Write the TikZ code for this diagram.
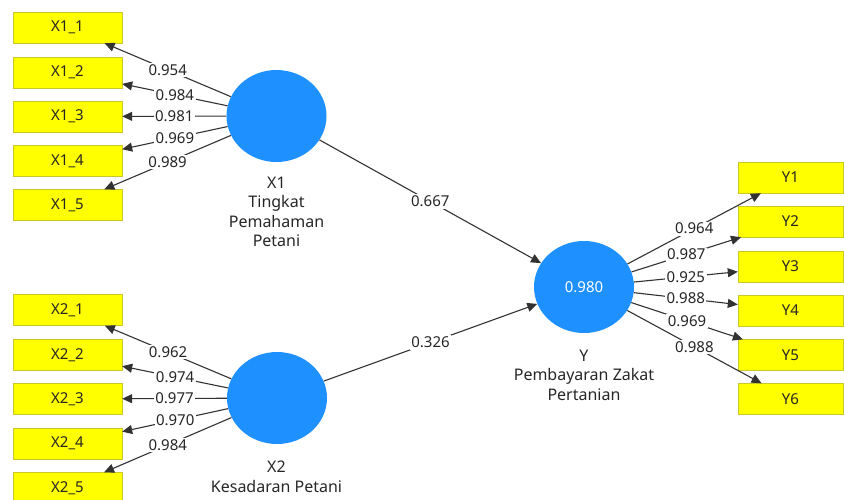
\documentclass[tikz,border=0pt]{standalone}
\usepackage{fontspec}
\setmainfont{Noto Sans}
\usepackage{tikz}
\usetikzlibrary{shapes.geometric}
\usetikzlibrary{arrows.meta}
\definecolor{plsblue}{RGB}{30,144,255}
\definecolor{plsyellow}{RGB}{255,255,0}
\definecolor{plsborder}{RGB}{200,200,40}
\definecolor{plsline}{RGB}{50,50,50}
\tikzstyle{latent}=[ellipse,fill=plsblue,draw=none,inner sep=0mm,minimum width=100pt,minimum height=92pt,text=white,font=\fontsize{15}{19}\selectfont]
\tikzstyle{indicator}=[rectangle,draw=plsborder,fill=plsyellow,inner sep=0mm,minimum width=109pt,minimum height=31pt,text=black!85,font=\fontsize{15}{19}\selectfont]
\tikzstyle{yindicator}=[indicator,minimum width=105pt]
\tikzstyle{loading}=[fill=white,inner sep=1.5pt,text=black!85,font=\fontsize{15}{19}\selectfont]
\tikzstyle{caption}=[align=center,inner sep=0mm,text=black!85,font=\fontsize{16}{19.5}\selectfont]
\tikzstyle{path}=[draw=plsline,line width=1.1pt]

\begin{document}
\begin{tikzpicture}[x=1pt,y=-1pt,>={Triangle[length=10pt,width=9pt]}]
    \useasboundingbox (0,0) rectangle (844,499);
    \node[latent] at (276.5,116) (lx1) {};
    \node[latent] at (277,398) (lx2) {};
    \node[latent] at (584,287) (ly) {0.980};
    \node[caption] at (276.5,212) (tx1) {X1\\Tingkat\\Pemahaman\\Petani};
    \node[caption] at (276.5,477) (tx2) {X2\\Kesadaran Petani};
    \node[caption] at (584,375) (ty) {Y\\Pembayaran Zakat\\Pertanian};
    \node[indicator] at (67.5,27.5) (x11) {X1\_1};
    \node[indicator] at (67.5,72.5) (x12) {X1\_2};
    \node[indicator] at (67.5,116.5) (x13) {X1\_3};
    \node[indicator] at (67.5,161) (x14) {X1\_4};
    \node[indicator] at (67.5,205) (x15) {X1\_5};
    \node[indicator] at (67.5,310) (x21) {X2\_1};
    \node[indicator] at (67.5,355) (x22) {X2\_2};
    \node[indicator] at (67.5,399) (x23) {X2\_3};
    \node[indicator] at (67.5,443.5) (x24) {X2\_4};
    \node[indicator] at (67.5,488) (x25) {X2\_5};
    \node[yindicator] at (790.5,177.5) (y1) {Y1};
    \node[yindicator] at (790.5,221.5) (y2) {Y2};
    \node[yindicator] at (790.5,266.5) (y3) {Y3};
    \node[yindicator] at (790.5,310.5) (y4) {Y4};
    \node[yindicator] at (790.5,355) (y5) {Y5};
    \node[yindicator] at (790.5,399) (y6) {Y6};
    % outer loadings of X1
    \draw[path,->] (lx1) to node[loading] {0.954} (x11);
    \draw[path,->] (lx1) to node[loading] {0.984} (x12);
    \draw[path,->] (lx1) to node[loading] {0.981} (x13);
    \draw[path,->] (lx1) to node[loading] {0.969} (x14);
    \draw[path,->] (lx1) to node[loading] {0.989} (x15);
    % outer loadings of X2
    \draw[path,->] (lx2) to node[loading] {0.962} (x21);
    \draw[path,->] (lx2) to node[loading] {0.974} (x22);
    \draw[path,->] (lx2) to node[loading] {0.977} (x23);
    \draw[path,->] (lx2) to node[loading] {0.970} (x24);
    \draw[path,->] (lx2) to node[loading] {0.984} (x25);
    % outer loadings of Y
    \draw[path,->] (ly) to node[loading] {0.964} (y1);
    \draw[path,->] (ly) to node[loading] {0.987} (y2);
    \draw[path,->] (ly) to node[loading] {0.925} (y3);
    \draw[path,->] (ly) to node[loading] {0.988} (y4);
    \draw[path,->] (ly) to node[loading] {0.969} (y5);
    \draw[path,->] (ly) to node[loading] {0.988} (y6);
    % path coefficients
    \draw[path,->] (lx1) to node[loading] {0.667} (ly);
    \draw[path,->] (lx2) to node[loading] {0.326} (ly);
  \end{tikzpicture}
\end{document}
